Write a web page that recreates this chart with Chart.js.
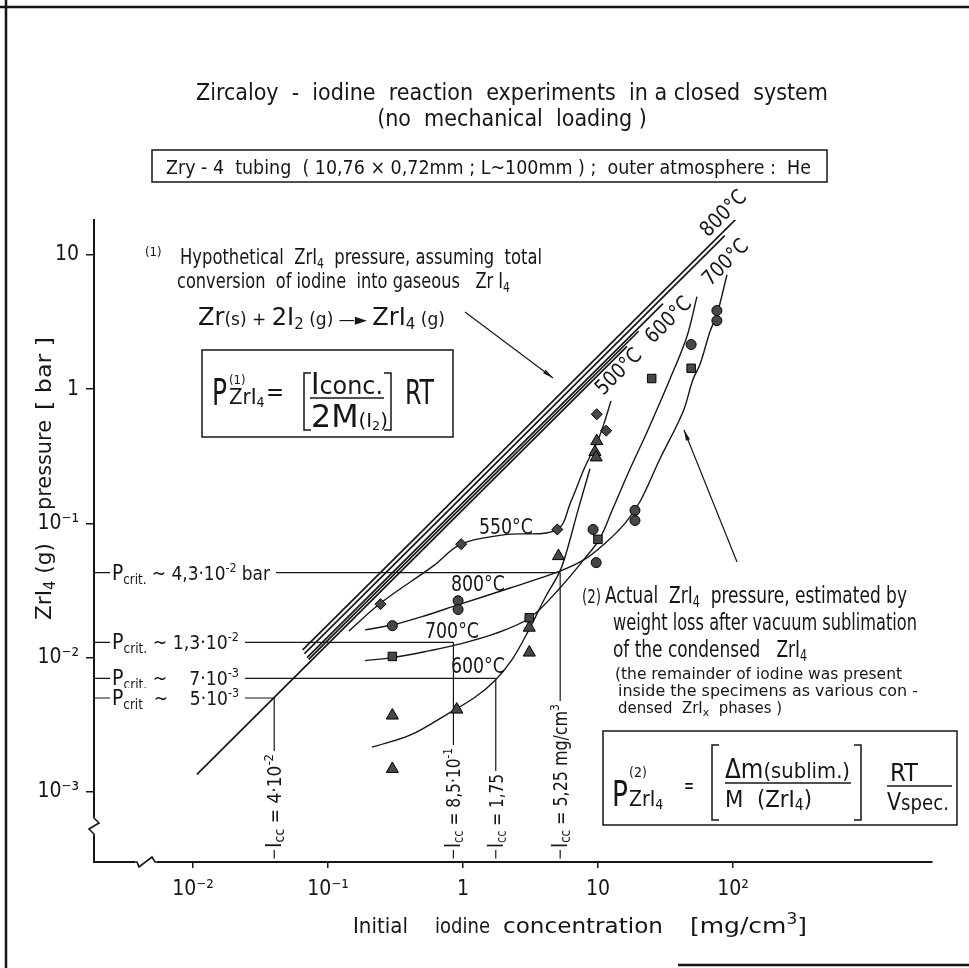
<!DOCTYPE html>
<html>
<head>
<meta charset="utf-8">
<title>Zircaloy - iodine reaction experiments</title>
<script src="https://cdn.jsdelivr.net/npm/chart.js@4.4.1/dist/chart.umd.min.js"></script>
<style>
  html, body { margin: 0; padding: 0; background: #fff; }
  #chart { display: block; }
</style>
</head>
<body>
<canvas id="chart" width="969" height="968"></canvas>
<script>
const INK = '#161616';
const NARROW = "'Liberation Sans Narrow', 'DejaVu Sans Condensed', 'Liberation Sans', sans-serif";
const ROUND = "'DejaVu Sans', 'Liberation Sans', sans-serif";

// decade ticks
const xTicks = [0.01, 0.1, 1, 10, 100];
const xTickLabels = ['10⁻²', '10⁻¹', '1', '10', '10²'];
const yTicks = [10, 1, 0.1, 0.01, 0.001];
const yTickLabels = ['10', '1', '10⁻¹', '10⁻²', '10⁻³'];

// measured ZrI4 pressure [bar] vs initial iodine concentration [mg/cm3]
const diamondX = [0.245, 0.97, 5.0, 9.8, 11.5];
const diamondY = [0.025, 0.070, 0.090, 0.65, 0.49];
const circleX = [0.30, 0.92, 0.92, 9.2, 9.7, 18.8, 18.8, 49, 76, 76];
const circleY = [0.0173, 0.0265, 0.0228, 0.090, 0.051, 0.125, 0.105, 2.15, 3.85, 3.24];
const squareX = [0.30, 3.1, 10, 25, 49];
const squareY = [0.0102, 0.0198, 0.076, 1.2, 1.43];
const triangleX = [0.30, 0.30, 0.90, 3.1, 3.1, 5.1, 9.8, 9.5, 9.7];
const triangleY = [0.0037, 0.00148, 0.0041, 0.0167, 0.0109, 0.057, 0.41, 0.34, 0.31];

// hand-drawn trend curves through the experiments
const curve550X = [0.143, 0.246, 0.60, 0.966, 2.0, 4.97, 6.3, 7.9, 10.3, 12.5];
const curve550Y = [0.0158, 0.0255, 0.048, 0.070, 0.082, 0.090, 0.145, 0.255, 0.45, 0.815];
const curve600X = [0.212, 0.405, 0.761, 1.227, 1.726, 2.31, 3.08, 4.05, 5.23, 5.9, 7.11, 8.73];
const curve600Y = [0.00215, 0.00264, 0.00378, 0.00506, 0.00676, 0.00967, 0.0161, 0.0278, 0.0441, 0.0631, 0.125, 0.255];
const curve700X = [0.188, 0.303, 0.570, 0.903, 1.726, 3.13, 5.23, 8.01, 10.35, 12.9, 17.3, 23.1, 34.1, 45.6, 54.1];
const curve700Y = [0.0095, 0.0100, 0.01127, 0.01248, 0.01507, 0.0198, 0.033, 0.055, 0.0774, 0.129, 0.255, 0.48, 1.186, 2.47, 4.89];
const curve800X = [0.188, 0.303, 0.523, 0.918, 2.23, 5.23, 8.01, 11.3, 15.85, 20.5, 28.8, 42.6, 50.6, 57, 67.6, 76, 90.3];
const curve800Y = [0.0161, 0.01755, 0.0205, 0.0247, 0.033, 0.0441, 0.0541, 0.0711, 0.10, 0.1456, 0.303, 0.676, 1.186, 1.53, 2.69, 3.59, 7.11];

// hypothetical pressure (total conversion to gaseous ZrI4), one line per temperature
const theoryTemps = ['500°C', '550°C', '600°C', '700°C', '800°C'];
const theoryStartX = [0.0107, 0.072, 0.070, 0.067, 0.065];
const theoryStartY = [0.00135, 0.0097, 0.0100, 0.0107, 0.0114];
const theoryEndX = [16.4, 20, 30.3, 87, 127];
const theoryEndY = [2.08, 2.7, 4.33, 13.9, 22.3];

// critical pressures and the matching iodine concentrations
const pcritValues = [0.043, 0.013, 0.007, 0.005];
const pcritText = [' ~ 4,3·10', ' ~ 1,3·10', ' ~    7·10', '  ~    5·10'];
const pcritPow = ['-2', '-2', '-3', '-3'];
const pcritUnit = [' bar', '', '', ''];
const pcritSub = ['crit.', 'crit.', 'crit.', 'crit'];
const iccValues = [5.25, 0.85, 1.75, 0.04];
const iccText = ['5,25 mg/cm', '8,5·10', '1,75', '4·10'];
const iccPow = ['3', '-1', '', '-2'];

const X_MIN = 0.00185, X_MAX = 2980;
const Y_MIN = 3.19e-4, Y_MAX = 18.2;

const pts = (xs, ys) => xs.map((x, i) => ({ x, y: ys[i] }));

const markerSet = (xs, ys, pointStyle, pointRadius) => ({
  data: pts(xs, ys), pointStyle, pointRadius, showLine: false,
  backgroundColor: '#474747', borderColor: '#000', borderWidth: 1
});
const lineSet = (data, borderWidth, tension = 0) => ({
  data, showLine: true, borderColor: INK, borderWidth, tension,
  pointRadius: 0, fill: false
});

const datasets = [
  markerSet(diamondX, diamondY, 'rectRot', 5.5),
  markerSet(circleX, circleY, 'circle', 5),
  markerSet(squareX, squareY, 'rect', 6),
  markerSet(triangleX, triangleY, 'triangle', 7),
  lineSet(pts(curve550X, curve550Y), 1.4, 0.35),
  lineSet(pts(curve600X, curve600Y), 1.4, 0.35),
  lineSet(pts(curve700X, curve700Y), 1.4, 0.35),
  lineSet(pts(curve800X, curve800Y), 1.4, 0.35),
];
theoryTemps.forEach((t, i) => {
  datasets.push(lineSet([
    { x: theoryStartX[i], y: theoryStartY[i] },
    { x: theoryEndX[i], y: theoryEndY[i] }
  ], 1.7));
});
pcritValues.forEach((p, i) => {
  datasets.push(lineSet([{ x: X_MIN, y: p }, { x: iccValues[i], y: p }], 1.2));
  datasets.push(lineSet([{ x: iccValues[i], y: p }, { x: iccValues[i], y: Y_MIN }], 1.2));
});

// labels placed in data units
const curveLabels = [
  { text: '550°C', x: 2.08, y: 0.095 },
  { text: '800°C', x: 1.29, y: 0.036 },
  { text: '700°C', x: 0.829, y: 0.0161 },
  { text: '600°C', x: 1.29, y: 0.00887 },
];
const lineLabels = [
  { text: '800°C', x: 84.3, y: 20.5 },
  { text: '700°C', x: 87.3, y: 8.87 },
  { text: '600°C', x: 33, y: 3.3 },
  { text: '500°C', x: 14.1, y: 1.36 },
];

function richWidth(ctx, parts) {
  let w = 0;
  for (const p of parts) {
    ctx.font = `${p[1]}px ${p[3] || NARROW}`;
    w += ctx.measureText(p[0]).width;
  }
  return w;
}

// draws a run of differently sized pieces on one baseline, optionally squeezed to a width
function drawRich(ctx, parts, x, y, opts = {}) {
  const natural = richWidth(ctx, parts);
  const width = opts.width || natural;
  const k = width / natural;
  const left = opts.align === 'center' ? x - width / 2 : opts.align === 'right' ? x - width : x;
  ctx.save();
  ctx.translate(left, y);
  ctx.scale(k, 1);
  ctx.textAlign = 'left';
  ctx.textBaseline = 'alphabetic';
  ctx.fillStyle = INK;
  let cx = 0;
  for (const p of parts) {
    ctx.font = `${p[1]}px ${p[3] || NARROW}`;
    ctx.fillText(p[0], cx, p[2] || 0);
    cx += ctx.measureText(p[0]).width;
  }
  ctx.restore();
  return width;
}

const notes = [
  { x: 512, y: 100, align: 'center', parts: [['Zircaloy  -  iodine  reaction  experiments  in a closed  system', 23]] },
  { x: 512, y: 126, align: 'center', parts: [['(no  mechanical  loading )', 23]] },
  { x: 166, y: 174, width: 645, parts: [['Zry - 4  tubing  ( 10,76 × 0,72mm ; L~100mm ) ;  outer atmosphere :  He', 19]] },
  { x: 145, y: 264, parts: [['(1)', 13, -8]] },
  { x: 180, y: 264, width: 362, parts: [['Hypothetical  ZrI', 21], ['4', 14, 4], ['  pressure, assuming  total', 21]] },
  { x: 177, y: 288, width: 333, parts: [['conversion  of iodine  into gaseous   Zr I', 21], ['4', 14, 4]] },
  { x: 198, y: 325, width: 247, parts: [['Zr', 24], ['(s)', 17], [' + ', 17], ['2I', 24], ['2', 15, 4], [' (g) ', 17], ['—► ', 16], ['ZrI', 24], ['4', 15, 4], [' (g)', 17]] },
  // formula (1)
  { x: 212, y: 405, width: 15, parts: [['P', 38]] },
  { x: 229, y: 384, parts: [['(1)', 13]] },
  { x: 229, y: 404, parts: [['ZrI', 22], ['4', 14, 3]] },
  { x: 266, y: 400, parts: [['=', 24]] },
  { x: 311, y: 394, width: 72, parts: [['I', 30], ['conc.', 25]] },
  { x: 311, y: 427, width: 77, parts: [['2M', 32], ['(I', 20], ['2', 13, 3], [')', 20]] },
  { x: 405, y: 404, width: 29, parts: [['RT', 34]] },
  // (2) explanation
  { x: 582, y: 603, width: 19, parts: [['(2)', 19]] },
  { x: 605, y: 603, width: 302, parts: [['Actual  ZrI', 23], ['4', 15, 4], ['  pressure, estimated by', 23]] },
  { x: 613, y: 630, width: 304, parts: [['weight loss after vacuum sublimation', 23]] },
  { x: 613, y: 657, width: 194, parts: [['of the condensed   ZrI', 23], ['4', 15, 4]] },
  { x: 615, y: 679, width: 287, parts: [['(the remainder of iodine was present', 15, 0, ROUND]] },
  { x: 618, y: 696, width: 300, parts: [['inside the specimens as various con -', 15, 0, ROUND]] },
  { x: 618, y: 713, width: 164, parts: [['densed  ZrI', 15, 0, ROUND], ['x', 11, 3, ROUND], ['  phases )', 15, 0, ROUND]] },
  // formula (2)
  { x: 612, y: 806, width: 16, parts: [['P', 36]] },
  { x: 629, y: 777, parts: [['(2)', 14]] },
  { x: 629, y: 806, parts: [['ZrI', 21], ['4', 14, 3]] },
  { x: 684, y: 793, width: 10, parts: [['=', 22]] },
  { x: 725, y: 778, width: 125, parts: [['Δm', 26], ['(sublim.)', 22]] },
  { x: 725, y: 807, width: 87, parts: [['M  (ZrI', 23], ['4', 15, 3], [')', 23]] },
  { x: 890, y: 781, width: 28, parts: [['RT', 25]] },
  { x: 887, y: 810, width: 62, parts: [['V', 25], ['spec.', 22]] },
  // x axis title
  { x: 353, y: 933, width: 55, parts: [['Initial', 22, 0, ROUND]] },
  { x: 435, y: 933, width: 55, parts: [['iodine', 22, 0, ROUND]] },
  { x: 503, y: 933, width: 160, parts: [['concentration', 22, 0, ROUND]] },
  { x: 690, y: 933, width: 117, parts: [['[mg/cm', 22, 0, ROUND], ['3', 15, -9, ROUND], [']', 22, 0, ROUND]] },
];

function line(ctx, x1, y1, x2, y2) {
  ctx.beginPath(); ctx.moveTo(x1, y1); ctx.lineTo(x2, y2); ctx.stroke();
}
function bracket(ctx, x, top, bottom, dir) {
  ctx.beginPath();
  ctx.moveTo(x + dir * 7, top); ctx.lineTo(x, top); ctx.lineTo(x, bottom); ctx.lineTo(x + dir * 7, bottom);
  ctx.stroke();
}
function arrow(ctx, x1, y1, x2, y2) {
  line(ctx, x1, y1, x2, y2);
  const a = Math.atan2(y2 - y1, x2 - x1);
  ctx.beginPath();
  ctx.moveTo(x2, y2);
  ctx.lineTo(x2 - 11 * Math.cos(a - 0.2), y2 - 11 * Math.sin(a - 0.2));
  ctx.lineTo(x2 - 11 * Math.cos(a + 0.2), y2 - 11 * Math.sin(a + 0.2));
  ctx.closePath();
  ctx.fill();
}

const annotations = {
  id: 'annotations',
  afterDraw(chart) {
    const { ctx, scales: { x, y } } = chart;
    ctx.save();
    ctx.strokeStyle = INK;
    ctx.fillStyle = INK;

    // sheet frame
    ctx.lineWidth = 2.5;
    line(ctx, 6, 0, 6, 968);
    line(ctx, 0, 7, 969, 7);
    line(ctx, 678, 965, 969, 965);

    // axis breaks
    ctx.fillStyle = '#fff';
    ctx.fillRect(86, 817, 16, 18);
    ctx.fillRect(135, 855, 22, 14);
    ctx.lineWidth = 1.6;
    ctx.beginPath();
    ctx.moveTo(94, 815); ctx.lineTo(94, 818); ctx.lineTo(99, 823); ctx.lineTo(89, 829); ctx.lineTo(94, 834); ctx.lineTo(94, 836);
    ctx.stroke();
    ctx.beginPath();
    ctx.moveTo(133, 862); ctx.lineTo(137, 862); ctx.lineTo(139, 867); ctx.lineTo(152, 857); ctx.lineTo(155, 862); ctx.lineTo(159, 862);
    ctx.stroke();

    // P crit labels on the horizontal lines
    pcritValues.forEach((p, i) => {
      const py = y.getPixelForValue(p);
      const parts = [['P', 22], [pcritSub[i], 14, 4], [pcritText[i], 20], [pcritPow[i], 13, -8], [pcritUnit[i], 20]];
      const w = i === 0 ? 158 : 127;
      ctx.fillStyle = '#fff';
      ctx.fillRect(110, py - 10, w + 8, 20);
      drawRich(ctx, parts, 112, py + 7, { width: w });
    });

    // I cc labels written up the vertical lines
    const iccWidths = [144, 100, 74, 94];
    iccValues.forEach((v, i) => {
      const px = x.getPixelForValue(v);
      const parts = [['I', 21], ['cc', 14, 3], [' = ' + iccText[i], 19]];
      if (iccPow[i]) parts.push([iccPow[i], 13, -8]);
      ctx.save();
      ctx.translate(px, 848);
      ctx.rotate(-Math.PI / 2);
      ctx.fillStyle = '#fff';
      ctx.fillRect(-2, -10, iccWidths[i] + 5, 20);
      drawRich(ctx, parts, 0, 7, { width: iccWidths[i] });
      ctx.restore();
    });

    // temperature labels on the measured curves
    curveLabels.forEach(l => {
      drawRich(ctx, [[l.text, 22]], x.getPixelForValue(l.x), y.getPixelForValue(l.y) + 8, { align: 'center', width: 54 });
    });
    // temperature labels along the hypothetical lines
    lineLabels.forEach(l => {
      ctx.save();
      ctx.translate(x.getPixelForValue(l.x), y.getPixelForValue(l.y));
      ctx.rotate(-Math.PI / 4);
      drawRich(ctx, [[l.text, 21]], 0, 7, { align: 'center', width: 56 });
      ctx.restore();
    });

    // y axis title
    ctx.save();
    ctx.translate(51, 0);
    ctx.rotate(-Math.PI / 2);
    drawRich(ctx, [['ZrI', 22], ['4', 15, 4], [' (g)', 22]], -620, 0, { width: 77 });
    drawRich(ctx, [['pressure', 22, 0, ROUND]], -510, 0, { width: 90 });
    drawRich(ctx, [['[ bar ]', 22, 0, ROUND]], -410, 0, { width: 73 });
    ctx.restore();

    // notes and formulas
    notes.forEach(n => drawRich(ctx, n.parts, n.x, n.y, n));

    ctx.strokeStyle = INK;
    ctx.fillStyle = INK;
    ctx.lineWidth = 1.5;
    ctx.strokeRect(152, 150, 675, 32);
    ctx.strokeRect(202, 350, 251, 87);
    ctx.strokeRect(603, 731, 354, 94);
    bracket(ctx, 304, 373, 430, 1);
    bracket(ctx, 391, 373, 430, -1);
    line(ctx, 310, 398, 384, 398);
    bracket(ctx, 712, 745, 820, 1);
    bracket(ctx, 861, 745, 820, -1);
    line(ctx, 725, 783, 851, 783);
    line(ctx, 887, 786, 952, 786);

    ctx.lineWidth = 1.2;
    arrow(ctx, 465, 312, 553, 378);
    arrow(ctx, 737, 562, 684, 430);
    ctx.restore();
  }
};

Chart.defaults.font.family = NARROW;
Chart.defaults.color = INK;

new Chart(document.getElementById('chart'), {
  type: 'scatter',
  data: { datasets },
  options: {
    responsive: false,
    animation: false,
    devicePixelRatio: 1,
    events: [],
    layout: { padding: { top: 220, right: 37, left: 0, bottom: 0 } },
    plugins: { legend: { display: false }, tooltip: { enabled: false } },
    scales: {
      x: {
        type: 'logarithmic',
        min: X_MIN,
        max: X_MAX,
        afterBuildTicks: s => { s.ticks = xTicks.map(value => ({ value })); },
        afterFit: s => { s.height = 106; },
        ticks: {
          autoSkip: false, maxRotation: 0, padding: 9, color: INK,
          font: { size: 21 },
          callback: v => xTickLabels[xTicks.indexOf(v)]
        },
        grid: { drawOnChartArea: false, drawTicks: true, tickLength: 6, color: INK, lineWidth: 1.5 },
        border: { display: true, color: INK, width: 2 }
      },
      y: {
        type: 'logarithmic',
        min: Y_MIN,
        max: Y_MAX,
        afterBuildTicks: s => { s.ticks = yTicks.map(value => ({ value })); },
        afterFit: s => { s.width = 94; },
        ticks: {
          autoSkip: false, padding: 7, color: INK,
          font: { size: 21 },
          callback: v => yTickLabels[yTicks.indexOf(v)]
        },
        grid: { drawOnChartArea: false, drawTicks: true, tickLength: 8, color: INK, lineWidth: 1.5 },
        border: { display: true, color: INK, width: 2 }
      }
    }
  },
  plugins: [annotations]
});
</script>
</body>
</html>
